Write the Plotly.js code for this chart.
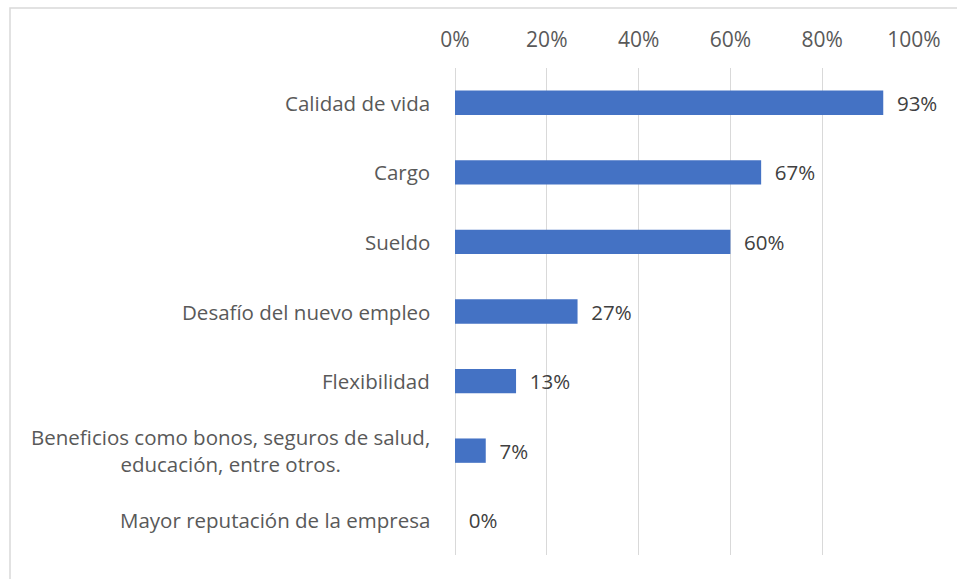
<!DOCTYPE html>
<html>
<head>
<meta charset="utf-8">
<script src="https://cdn.plot.ly/plotly-3.0.1.min.js"></script>
<style>
  html, body { margin: 0; padding: 0; background: #fff; }
  #chart { width: 957px; height: 579px; }
</style>
</head>
<body>
<div id="chart"></div>
<script>
// categories, top to bottom
const categories = [
    "Calidad de vida",
    "Cargo",
    "Sueldo",
    "Desafío del nuevo empleo",
    "Flexibilidad",
    "Beneficios como bonos, seguros de salud,<br>educación, entre otros.",
    "Mayor reputación de la empresa"
];
const shares = [0.933, 0.667, 0.60, 0.267, 0.133, 0.067, 0.0];
const tickVals = [0, 0.2, 0.4, 0.6, 0.8, 1.0];

const FONT = "'Open Sans', sans-serif";
const NBSP = "\u00a0";

window.addEventListener('load', function () {
    let trace = {
        type: "bar",
        orientation: "h",
        x: shares,
        y: categories,
        marker: {color: "#4472C4"},
        width: 0.35,
        text: shares.map(v => NBSP + NBSP + Math.round(v * 100) + "%"),
        textposition: "outside",
        textfont: {family: FONT, size: 20.5, color: "#404040"},
        constraintext: "none",
        cliponaxis: false,
        hoverinfo: "none",
    };

    // category labels as annotations so the two-line label is centred
    let annotations = categories.map(function (c) {
        return {
            x: -0.05, xref: "paper", xanchor: "right",
            y: c, yref: "y", yanchor: "middle",
            text: c, showarrow: false, align: "center",
            font: {family: FONT, size: 20.5, color: "#595959"},
        };
    });

    let layout = {
        width: 957,
        height: 579,
        margin: {l: 455, r: 43, t: 68, b: 24},
        paper_bgcolor: "#ffffff",
        plot_bgcolor: "#ffffff",
        showlegend: false,
        xaxis: {
            side: "top",
            range: [0, 1],
            tickvals: tickVals,
            tickformat: ".0%",
            showgrid: true,
            gridcolor: "#d9d9d9",
            gridwidth: 1,
            zeroline: true,
            zerolinecolor: "#d9d9d9",
            zerolinewidth: 1,
            showline: false,
            ticks: "outside",
            ticklen: 12,
            tickcolor: "rgba(0,0,0,0)",
            tickfont: {family: FONT, size: 21, color: "#595959"},
            fixedrange: true,
        },
        yaxis: {
            autorange: "reversed",
            showticklabels: false,
            showgrid: false,
            zeroline: false,
            showline: false,
            fixedrange: true,
        },
        annotations: annotations,
        shapes: [{
            type: "rect", xref: "paper", yref: "paper",
            x0: -0.9695, x1: 1.2, y0: -0.2, y1: 1.1232,
            line: {color: "#d9d9d9", width: 1.5},
            layer: "below",
        }],
    };

    Plotly.newPlot("chart", [trace], layout, {staticPlot: true});
});
</script>
</body>
</html>
